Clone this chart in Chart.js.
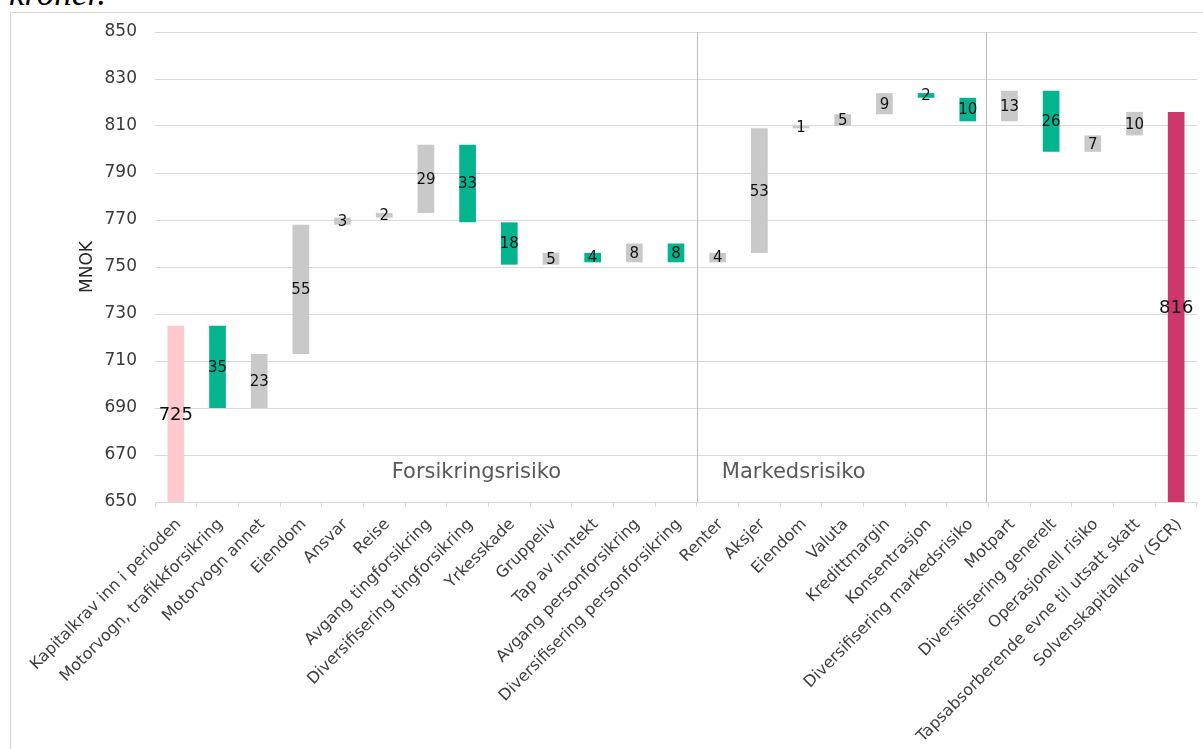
<!DOCTYPE html>
<html lang="no">
<head>
<meta charset="utf-8">
<title>Solvenskapitalkrav – endring i perioden</title>
<script src="https://cdn.jsdelivr.net/npm/chart.js@4.4.1/dist/chart.umd.min.js"></script>
<style>
  html, body { margin: 0; padding: 0; background: #fff; overflow: hidden; }
  #wrap { position: relative; width: 1203px; height: 749px; overflow: hidden; }
  #caption { position: absolute; left: 9px; top: -24px; font: italic 35px/36px "Liberation Serif", serif; color: #000; }
  #frame { position: absolute; left: 10px; top: 12px; width: 1300px; height: 800px; border: 1px solid #d6d6d6; box-sizing: border-box; }
  canvas { position: absolute; left: 0; top: 0; }
</style>
</head>
<body>
<div id="wrap">
  <div id="caption">kroner.</div>
  <div id="frame"></div>
  <canvas id="chart" width="1203" height="749"></canvas>
</div>
<script>
// Categories along the x axis
const categories = [
  'Kapitalkrav inn i perioden',
  'Motorvogn, trafikkforsikring',
  'Motorvogn annet',
  'Eiendom',
  'Ansvar',
  'Reise',
  'Avgang tingforsikring',
  'Diversifisering tingforsikring',
  'Yrkesskade',
  'Gruppeliv',
  'Tap av inntekt',
  'Avgang personforsikring',
  'Diversifisering personforsikring',
  'Renter',
  'Aksjer',
  'Eiendom',
  'Valuta',
  'Kredittmargin',
  'Konsentrasjon',
  'Diversifisering markedsrisiko',
  'Motpart',
  'Diversifisering generelt',
  'Operasjonell risiko',
  'Tapsabsorberende evne til utsatt skatt',
  'Solvenskapitalkrav (SCR)'
];

// Opening and closing capital requirement (MNOK)
const openingValue = 725;
const closingValue = 816;

// Change contributed by each intermediate category (MNOK, negative = reduction)
const changes = [-35, 23, 55, 3, 2, 29, -33, -18, 5, -4, 8, -8, 4, 53, 1, 5, 9, -2, -10, 13, -26, 7, 10];

// Value axis range and tick step
const yMin = 650;
const yMax = 850;
const yStep = 20;

// Group captions: [text, category position of left edge, value of vertical centre]
const groupCaptions = [
  ['Forsikringsrisiko', 5.18, 662.5],
  ['Markedsrisiko', 13.1, 662.5]
];
// Separators between the risk groups, in category units
const separatorPositions = [12.5, 19.43];

const COLORS = {
  start: '#FFC9D0',
  end: '#CC386B',
  up: '#C9C9C9',
  down: '#03B48F'
};

// Build floating bars for the waterfall
const ranges = [[0, openingValue]];
const kinds = ['start'];
const labelValues = [openingValue];
let level = openingValue;
changes.forEach(d => {
  const next = level + d;
  ranges.push([Math.min(level, next), Math.max(level, next)]);
  kinds.push(d < 0 ? 'down' : 'up');
  labelValues.push(Math.abs(d));
  level = next;
});
ranges.push([0, closingValue]);
kinds.push('end');
labelValues.push(closingValue);

const FONT = '"DejaVu Sans", Verdana, sans-serif';

const waterfallDecor = {
  id: 'waterfallDecor',
  beforeDatasetsDraw(chart) {
    const { ctx, chartArea } = chart;
    const x = chart.scales.x;
    ctx.save();
    ctx.strokeStyle = '#bdbdbd';
    ctx.lineWidth = 1;
    separatorPositions.forEach(p => {
      const px = Math.round(x.getPixelForValue(p)) + 0.5;
      ctx.beginPath();
      ctx.moveTo(px, chartArea.top);
      ctx.lineTo(px, chartArea.bottom);
      ctx.stroke();
    });
    ctx.restore();
  },
  afterDatasetsDraw(chart) {
    const { ctx, chartArea } = chart;
    const meta = chart.getDatasetMeta(0);
    const xs = chart.scales.x;
    const ys = chart.scales.y;
    ctx.save();
    ctx.textAlign = 'center';
    ctx.textBaseline = 'middle';
    ctx.fillStyle = '#111';
    meta.data.forEach((el, i) => {
      const top = Math.max(Math.min(el.y, el.base), chartArea.top);
      const bot = Math.min(Math.max(el.y, el.base), chartArea.bottom);
      const big = kinds[i] === 'start' || kinds[i] === 'end';
      ctx.font = (big ? '18px ' : '15px ') + FONT;
      ctx.fillText(String(labelValues[i]), el.x, (top + bot) / 2 + 1);
    });
    ctx.font = '21px ' + FONT;
    ctx.fillStyle = '#595959';
    ctx.textAlign = 'left';
    groupCaptions.forEach(([text, pos, val]) => {
      ctx.fillText(text, xs.getPixelForValue(pos), ys.getPixelForValue(val));
    });
    ctx.restore();
  }
};

new Chart(document.getElementById('chart'), {
  type: 'bar',
  data: {
    labels: categories,
    datasets: [{
      data: ranges,
      backgroundColor: kinds.map(k => COLORS[k]),
      borderWidth: 0,
      borderSkipped: false,
      barPercentage: 0.4,
      categoryPercentage: 1
    }]
  },
  options: {
    responsive: false,
    animation: false,
    devicePixelRatio: 1,
    layout: { padding: { top: 32, right: 6, left: 0, bottom: 0 } },
    plugins: { legend: { display: false }, tooltip: { enabled: false } },
    scales: {
      x: {
        offset: true,
        grid: { display: true, drawOnChartArea: false, drawTicks: true, tickLength: 5, color: '#d9d9d9', offset: true },
        border: { display: true, color: '#d9d9d9' },
        ticks: {
          autoSkip: false,
          minRotation: 45,
          maxRotation: 45,
          padding: 8,
          labelOffset: 3,
          color: '#404040',
          font: { family: FONT, size: 16 }
        },
        afterFit(scale) { scale.height = 247; }
      },
      y: {
        min: yMin,
        max: yMax,
        grid: { color: '#d9d9d9', drawTicks: false },
        border: { display: false },
        ticks: {
          stepSize: yStep,
          padding: 18,
          color: '#3a3a3a',
          font: { family: FONT, size: 17 }
        },
        title: {
          display: true,
          text: 'MNOK',
          color: '#262626',
          font: { family: FONT, size: 17 },
          padding: { top: 77, bottom: 0 }
        },
        afterFit(scale) { scale.width = 155; }
      }
    }
  },
  plugins: [waterfallDecor]
});
</script>
</body>
</html>
